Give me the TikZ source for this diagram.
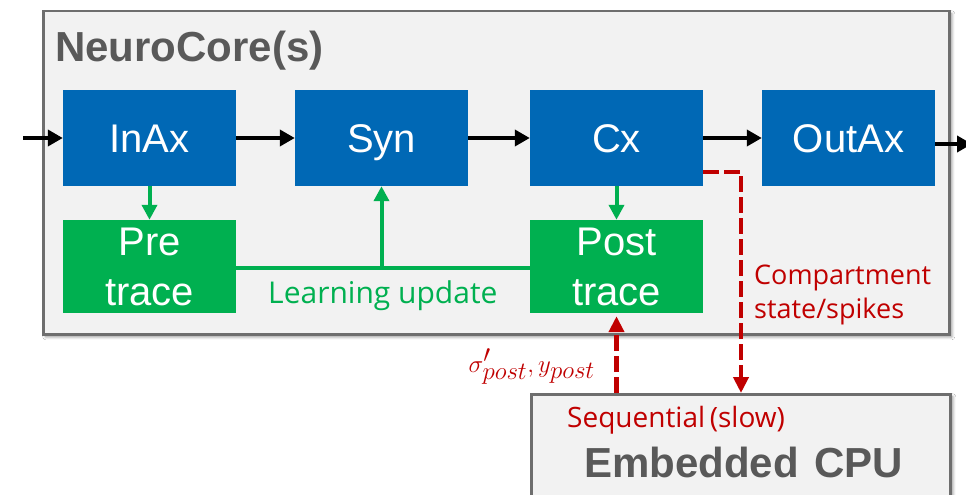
\documentclass[tikz,border=0pt]{standalone}
\usepackage{fontspec}
\setmainfont{Liberation Sans}
\newfontfamily\notefont{Open Sans}
\usetikzlibrary{arrows.meta,shadows.blur}
\definecolor{coreblue}{HTML}{0068B5}
\definecolor{tracegreen}{HTML}{00B050}
\definecolor{darkred}{HTML}{C00000}
\definecolor{panelfill}{HTML}{F2F2F2}
\definecolor{panelline}{HTML}{6E6E6E}
\definecolor{titlegray}{HTML}{595959}

\begin{document}
\begin{tikzpicture}[x=1pt,y=-1pt,
  panel/.style={draw=panelline, line width=2.5pt, fill=panelfill,
    blur shadow={shadow xshift=2.5pt, shadow yshift=-2.5pt,
      shadow opacity=45, shadow blur steps=6, shadow blur radius=3pt}},
  unitbox/.style={fill=coreblue, text=white, inner sep=0pt,
    minimum width=173pt, minimum height=96pt,
    font=\fontsize{40}{48}\selectfont, text height=29pt, text depth=0pt},
  tracebox/.style={fill=tracegreen, text=white, inner sep=0pt, align=center,
    minimum width=173pt, minimum height=93pt,
    font=\fontsize{40}{50}\selectfont},
  flow/.style={draw=black, line width=4.5pt,
    -{Triangle[length=15pt,width=16pt]}},
  learn/.style={draw=tracegreen, line width=4pt},
  learnarrow/.style={learn, -{Triangle[length=15pt,width=15pt]}},
  cpulink/.style={draw=darkred, line width=4.5pt, dash pattern=on 16pt off 5pt,
    line join=miter, -{Triangle[length=16pt,width=15pt]}},
  title/.style={anchor=base west, inner sep=0pt, text=titlegray,
    font=\bfseries},
  note/.style={inner sep=0pt, text=darkred}
]
\useasboundingbox (0,0) rectangle (966,495);
\fill[white] (0,0) rectangle (966,495);

% NeuroCore panel and the embedded CPU panel
\node[panel, anchor=north west, minimum width=906pt, minimum height=323pt]
  (core) at (42,10) {};
\node[panel, anchor=north west, minimum width=419pt, minimum height=130pt]
  (cpu) at (530,393) {};

\node[title, font=\fontsize{42}{50}\selectfont\bfseries] (coretitle) at (55,62) {NeuroCore(s)};

% pipeline units
\node[unitbox] (inax)  at (149.5,138) {InAx};
\node[unitbox] (syn)   at (381.5,138) {Syn};
\node[unitbox] (cx)    at (616.5,138) {Cx};
\node[unitbox] (outax) at (848.5,138) {OutAx};

% trace units
\node[tracebox] (pre)  at (149.5,266.5) {Pre\\trace};
\node[tracebox] (post) at (616.5,266.5) {Post\\trace};

% spike path
\coordinate (spikein)  at (23,138);
\coordinate (spikeout) at (972,144);
\draw[flow] (spikein) -- (inax.west);
\draw[flow] (inax) -- (syn);
\draw[flow] (syn) -- (cx);
\draw[flow] (cx) -- (outax);
\draw[flow] ([yshift=-6pt]outax.east) -- (spikeout);

% learning path
\draw[learnarrow] (inax.south) -- (pre.north);
\draw[learnarrow] (cx.south) -- (post.north);
\draw[learn] ([yshift=-1.5pt]pre.east) -- ([yshift=-1.5pt]post.west);
\draw[learnarrow] ([yshift=-1.5pt]pre.east -| syn.south) -- (syn.south);
\node[anchor=base west, inner sep=0pt, text=tracegreen,
  font=\notefont\fontsize{30}{34}\selectfont] (learnlabel) at (268,303) {Learning update};

% links to the embedded CPU
\coordinate (bend) at (741,172);
\draw[cpulink] (cx.east |- bend) -- (bend) -- (bend |- cpu.north);
\draw[cpulink, shorten >=3pt] (cpu.north -| post.south) -- (post.south);

\node[note, anchor=north west, align=left,
  font=\notefont\fontsize{27}{34}\selectfont] (statelabel) at (754,265)
  {Compartment\\state/spikes};
\node[note, anchor=base east, font=\fontsize{34}{40}\selectfont] (siglabel)
  at (595,372) {$\sigma'_{post}, y_{post}$};

\node[note, anchor=base west, font=\notefont\fontsize{28}{32}\selectfont]
  (seqlabel) at (567,427) {Sequential\,(slow)};
\node[title, font=\fontsize{42}{50}\selectfont\bfseries] (cputitle) at (584,477)
  {Embedded\hspace{4pt} CPU};
\end{tikzpicture}
\end{document}
